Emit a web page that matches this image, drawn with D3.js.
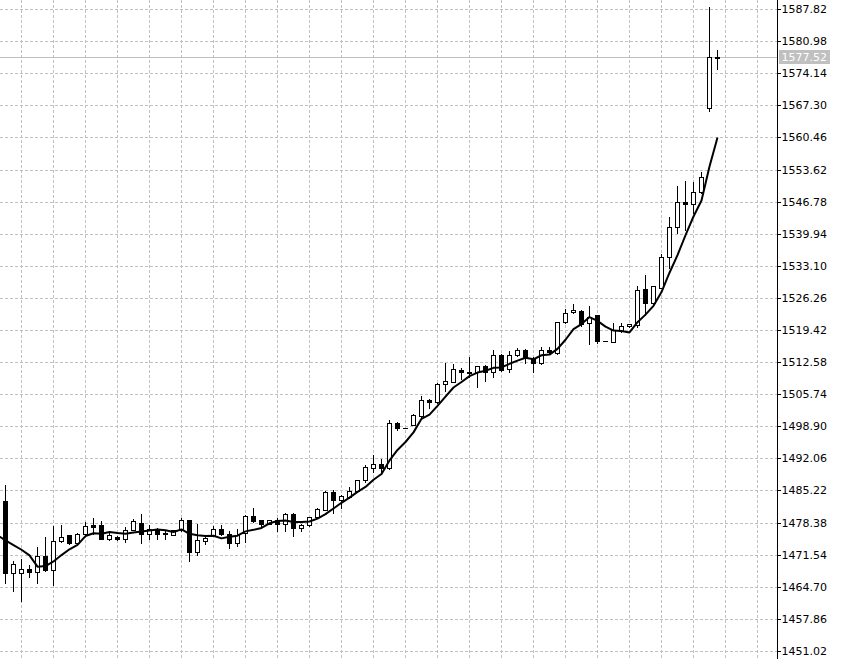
<!DOCTYPE html>
<html>
<head>
<meta charset="utf-8">
<script src="https://cdn.jsdelivr.net/npm/d3@7"></script>
<style>
  html, body { margin: 0; padding: 0; background: #ffffff; }
  svg { display: block; }
  .tick text { font-family: "DejaVu Sans", sans-serif; font-size: 11px; fill: #000; }
</style>
</head>
<body>
<svg id="chart" width="844" height="659"></svg>
<script>
// ---- data ----
const opens = [1483.03,1467.74,1467.81,1468.66,1467.95,1471.44,1468.31,1474.57,1475.92,1474.21,
  1476.13,1477.91,1477.91,1475.06,1475.49,1475.06,1476.98,1478.48,1476.13,1477.20,
  1476.13,1475.92,1476.84,1478.98,1472.29,1474.57,1475.78,1477.20,1476.13,1474.14,
  1476.27,1479.83,1478.98,1478.26,1479.12,1478.26,1480.26,1477.41,1478.05,1479.69,
  1481.25,1485.02,1483.39,1483.96,1485.24,1487.65,1490.22,1491.07,1490.14,1499.61,
  1498.75,1499.39,1501.24,1504.59,1504.09,1507.93,1508.50,1510.99,1510.49,1510.49,
  1511.84,1510.49,1514.19,1511.13,1514.19,1515.26,1513.34,1512.41,1515.19,1514.55,
  1521.30,1523.30,1523.65,1520.95,1522.73,1517.18,1517.04,1519.38,1520.38,1520.59,
  1528.20,1525.22,1528.42,1535.03,1541.44,1546.84,1546.42,1548.91,1566.83,1577.60];
const highs = [1486.80,1470.44,1471.01,1469.73,1473.43,1475.63,1477.91,1478.26,1476.13,1476.49,
  1478.83,1479.69,1478.98,1476.84,1475.78,1477.70,1479.55,1480.54,1478.26,1477.55,
  1476.84,1477.20,1479.69,1479.33,1478.48,1476.13,1477.91,1478.12,1476.84,1477.41,
  1480.26,1481.82,1479.12,1479.33,1479.69,1480.75,1480.75,1478.48,1479.83,1481.82,
  1485.38,1485.73,1484.67,1486.30,1487.87,1490.93,1493.06,1492.35,1500.53,1500.10,
  1498.80,1501.74,1505.65,1504.94,1508.50,1512.77,1512.55,1511.56,1514.05,1512.06,
  1512.27,1515.40,1514.55,1515.26,1515.97,1515.61,1513.98,1516.11,1516.11,1521.52,
  1524.15,1525.22,1523.94,1524.86,1522.94,1517.25,1521.16,1521.16,1521.09,1529.13,
  1531.48,1529.13,1535.89,1543.86,1550.47,1551.54,1551.18,1553.32,1588.67,1579.43];
const lows = [1465.60,1463.89,1461.76,1466.88,1465.60,1468.16,1465.10,1474.40,1474.00,1474.00,
  1475.78,1476.13,1474.92,1474.71,1474.71,1474.35,1476.84,1474.14,1475.06,1475.06,
  1475.06,1475.78,1476.63,1470.30,1471.51,1473.85,1475.56,1475.78,1473.14,1473.43,
  1474.35,1478.62,1477.70,1478.12,1476.70,1476.70,1475.63,1476.70,1477.77,1479.55,
  1481.11,1480.54,1481.68,1483.81,1485.02,1487.16,1489.29,1489.29,1490.00,1498.18,
  1498.70,1499.25,1501.03,1502.81,1504.02,1506.58,1508.36,1509.07,1509.57,1507.29,
  1508.64,1509.42,1510.85,1510.49,1513.98,1512.48,1510.63,1512.20,1514.55,1514.40,
  1521.09,1523.08,1520.38,1516.47,1516.68,1517.10,1516.89,1519.17,1520.09,1520.24,
  1522.73,1525.07,1528.42,1532.69,1540.16,1540.87,1544.42,1548.69,1566.12,1575.16];
const closes = [1467.74,1469.73,1468.66,1467.95,1471.44,1468.31,1474.64,1475.49,1474.14,1476.13,
  1477.70,1477.55,1475.06,1475.92,1475.06,1476.98,1478.76,1476.13,1477.06,1476.13,
  1476.20,1476.84,1478.98,1472.29,1474.71,1475.28,1477.20,1476.13,1474.14,1475.78,
  1479.83,1478.83,1478.12,1479.12,1478.26,1480.26,1477.41,1478.05,1479.69,1481.32,
  1485.02,1483.39,1484.10,1485.17,1487.51,1490.29,1491.07,1490.14,1499.61,1498.75,
  1498.75,1501.31,1504.59,1504.09,1508.00,1508.57,1511.13,1510.49,1510.28,1511.84,
  1510.49,1514.19,1510.92,1514.19,1515.26,1513.48,1512.55,1515.26,1514.90,1521.30,
  1523.22,1523.79,1520.73,1522.37,1517.18,1517.18,1519.53,1520.38,1520.81,1528.06,
  1525.22,1528.92,1535.03,1541.44,1546.77,1546.42,1548.91,1552.11,1577.72,1577.52];
// moving average values for bars -1..3 (their window reaches before the visible bars)
const maLead = [1475.8, 1474.7, 1473.7, 1472.7, 1471.5];
const maPeriod = 5;
const priceTicks = [1587.82,1580.98,1574.14,1567.30,1560.46,1553.62,1546.78,1539.94,1533.10,
  1526.26,1519.42,1512.58,1505.74,1498.90,1492.06,1485.22,1478.38,1471.54,1464.70,1457.86,1451.02];
const bidPrice = 1577.52;

// ---- layout ----
const W = 844, H = 659;
const axisX = 777.5;
const svg = d3.select("#chart");
svg.append("rect").attr("width", W).attr("height", H).attr("fill", "#fff");

const n = closes.length;
const x = d3.scaleLinear().domain([0, n - 1]).range([5.5, 5.5 + 8 * (n - 1)]);
const y = d3.scaleLinear().domain([1451.02, 1587.82]).range([651.5, 9.5]);
const py = v => Math.round(y(v)) + 0.5;   // marks
const gy = v => Math.floor(y(v)) + 0.5;   // grid / levels

svg.append("defs").append("clipPath").attr("id", "plot")
  .append("rect").attr("x", 0).attr("y", 0).attr("width", 777).attr("height", H);

const grid = svg.append("g").attr("shape-rendering", "crispEdges");
grid.selectAll("line.h").data(priceTicks).join("line")
  .attr("x1", 0).attr("x2", 777).attr("y1", d => gy(d)).attr("y2", d => gy(d))
  .attr("stroke", "#c0c0c0").attr("stroke-dasharray", "3,2");
const vIdx = d3.range(2, 200, 4).filter(i => x(i) < 777);
grid.selectAll("line.v").data(vIdx).join("line")
  .attr("x1", d => x(d)).attr("x2", d => x(d)).attr("y1", 0).attr("y2", H)
  .attr("stroke", "#c0c0c0").attr("stroke-dasharray", "3,2");

// bid line
svg.append("line").attr("x1", 0).attr("x2", 777).attr("y1", gy(bidPrice)).attr("y2", gy(bidPrice))
  .attr("stroke", "#c0c0c0").attr("shape-rendering", "crispEdges");

const plot = svg.append("g").attr("clip-path", "url(#plot)");

// candles
const bars = d3.range(n).map(i => ({i, o: opens[i], h: highs[i], l: lows[i], c: closes[i]}));
const cg = plot.append("g").attr("shape-rendering", "crispEdges");
cg.selectAll("line.wick").data(bars).join("line")
  .attr("x1", d => x(d.i)).attr("x2", d => x(d.i))
  .attr("y1", d => py(d.h)).attr("y2", d => py(d.l))
  .attr("stroke", "#000");
bars.forEach(d => {
  const yt = py(Math.max(d.o, d.c)), yb = py(Math.min(d.o, d.c));
  if (yb - yt < 1) {
    cg.append("line").attr("x1", x(d.i) - 2.5).attr("x2", x(d.i) + 2.5)
      .attr("y1", yt).attr("y2", yt).attr("stroke", "#000");
  } else {
    cg.append("rect").attr("x", x(d.i) - 2).attr("width", 4)
      .attr("y", yt).attr("height", yb - yt)
      .attr("fill", d.c >= d.o ? "#fff" : "#000").attr("stroke", "#000");
  }
});

// moving average of closes
const ma = [];
maLead.forEach((v, k) => ma.push({i: k - 1, v}));
for (let i = maPeriod - 1; i < n; i++) {
  ma.push({i, v: d3.mean(closes.slice(i - maPeriod + 1, i + 1))});
}
plot.append("path").datum(ma)
  .attr("d", d3.line().x(d => x(d.i)).y(d => y(d.v)))
  .attr("fill", "none").attr("stroke", "#000").attr("stroke-width", 2)
  .attr("stroke-linejoin", "round");

// price axis
const axis = d3.axisRight(y).tickValues(priceTicks).tickSize(3).tickPadding(1)
  .tickFormat(d3.format(".2f"));
const ag = svg.append("g").attr("transform", `translate(${axisX},0)`).call(axis);
ag.select(".domain").remove();
ag.selectAll(".tick").attr("transform", d => `translate(0,${gy(d)})`);
ag.selectAll(".tick line").attr("stroke", "#000").attr("shape-rendering", "crispEdges");
ag.selectAll(".tick text").attr("font-family", null).attr("font-size", null);
svg.append("line").attr("x1", axisX).attr("x2", axisX).attr("y1", 0).attr("y2", H)
  .attr("stroke", "#000").attr("shape-rendering", "crispEdges");

// bid label
const bg = svg.append("g");
bg.append("rect").attr("x", 779).attr("y", gy(bidPrice) - 7.5).attr("width", 51).attr("height", 14)
  .attr("fill", "#c0c0c0");
bg.append("text").attr("x", axisX + 4).attr("y", gy(bidPrice)).attr("dy", "0.32em")
  .attr("font-family", "DejaVu Sans, sans-serif").attr("font-size", 11).attr("fill", "#fff")
  .text(d3.format(".2f")(bidPrice));
</script>
</body>
</html>
